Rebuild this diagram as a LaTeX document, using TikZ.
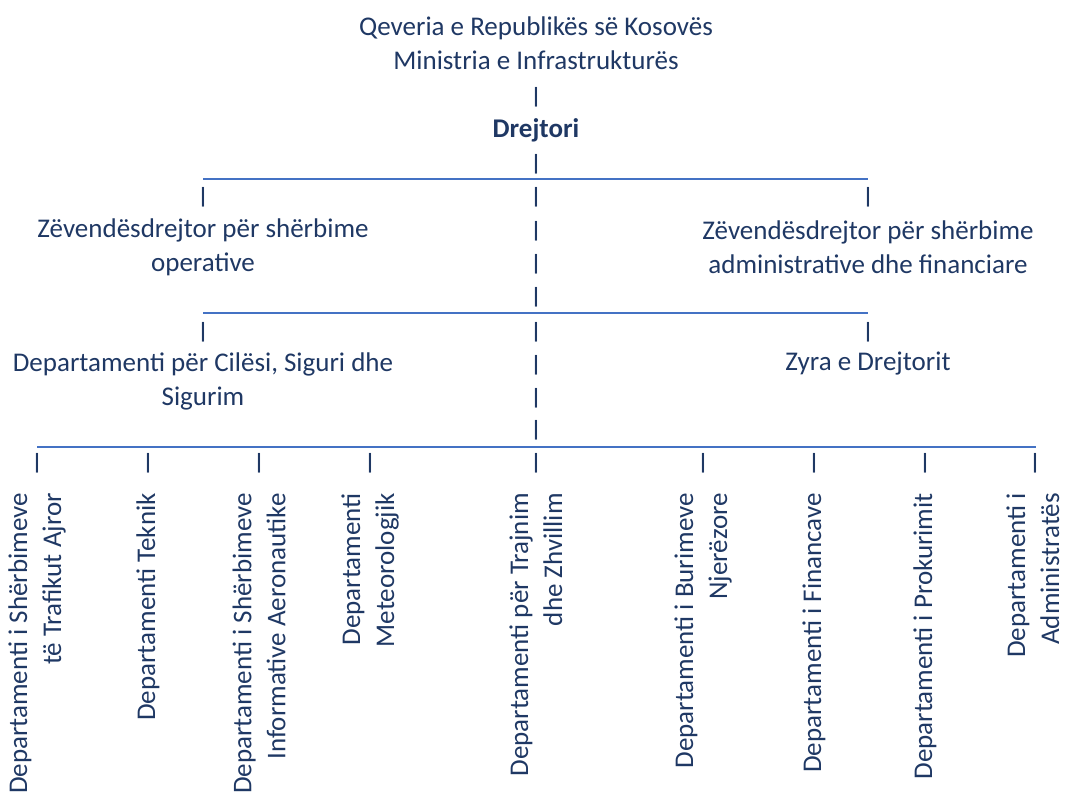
\documentclass[tikz,border=0pt]{standalone}
\usepackage{fontspec}
\setmainfont{Carlito}
\usetikzlibrary{positioning}
\definecolor{orgtext}{HTML}{1F3864}
\definecolor{orgline}{HTML}{4472C4}
\newcommand\orgfont{\fontsize{27}{34}\selectfont}

\begin{document}
\begin{tikzpicture}[x=1pt, y=-1pt,
  unit/.style={text=orgtext, font=\orgfont, align=center, inner sep=0pt},
  dept/.style={unit, rotate=90, anchor=east, align=right},
  vbar/.style={text=orgtext, font=\fontsize{22}{22}\selectfont\bfseries, inner sep=0pt},
  hline/.style={draw=orgline, line width=1.3pt}]
  \useasboundingbox (0,0) rectangle (1065,794);

  % head of the chart
  \node[unit] (gov) at (536,43) {Qeveria e Republikës së Kosovës\\Ministria e Infrastrukturës};
  \node[unit, font=\orgfont\bfseries] (dir) at (536,130) {Drejtori};

  % deputies and offices
  \node[unit] (dop) at (203,247) {Zëvendësdrejtor për shërbime\\operative};
  \node[unit] (dadm) at (868,247) {Zëvendësdrejtor për shërbime\\administrative dhe financiare};
  \node[unit] (dqs) at (203,381) {Departamenti për Cilësi, Siguri dhe\\Sigurim};
  \node[unit] (zyra) at (868,364) {Zyra e Drejtorit};

  % horizontal rules
  \coordinate (r1w) at (203,179); \coordinate (r1e) at (868,179);
  \coordinate (r2w) at (203,313); \coordinate (r2e) at (868,313);
  \coordinate (r3w) at (37,447);  \coordinate (r3e) at (1036,447);
  \draw[hline] (r1w) -- (r1e);
  \draw[hline] (r2w) -- (r2e);
  \draw[hline] (r3w) -- (r3e);

  % bars
  \foreach \x/\y [count=\i] in {536/97, 536/164,
      203/197, 536/197, 868/197, 536/231, 536/264, 536/297,
      203/332, 536/332, 868/332, 536/365, 536/398, 536/430,
      37/463, 148/463, 259/463, 370/463, 536/463, 703/463, 814/463, 925/463, 1035/463}
    \node[vbar] (bar\i) at (\x,\y) {|};

  % departments
  \foreach \x/\txt [count=\i] in {
      37/{Departamenti i Shërbimeve\\të Trafikut Ajror},
      148/{Departamenti Teknik},
      259/{Departamenti i Shërbimeve\\Informative Aeronautike},
      370/{Departamenti\\Meteorologjik},
      536/{Departamenti për Trajnim\\dhe Zhvillim},
      703/{Departamenti i Burimeve\\Njerëzore},
      814/{Departamenti i Financave},
      925/{Departamenti i Prokurimit},
      1033/{Departamenti i\\Administratës}}
    \node[dept] (dep\i) at (\x,493) {\txt};
\end{tikzpicture}
\end{document}
